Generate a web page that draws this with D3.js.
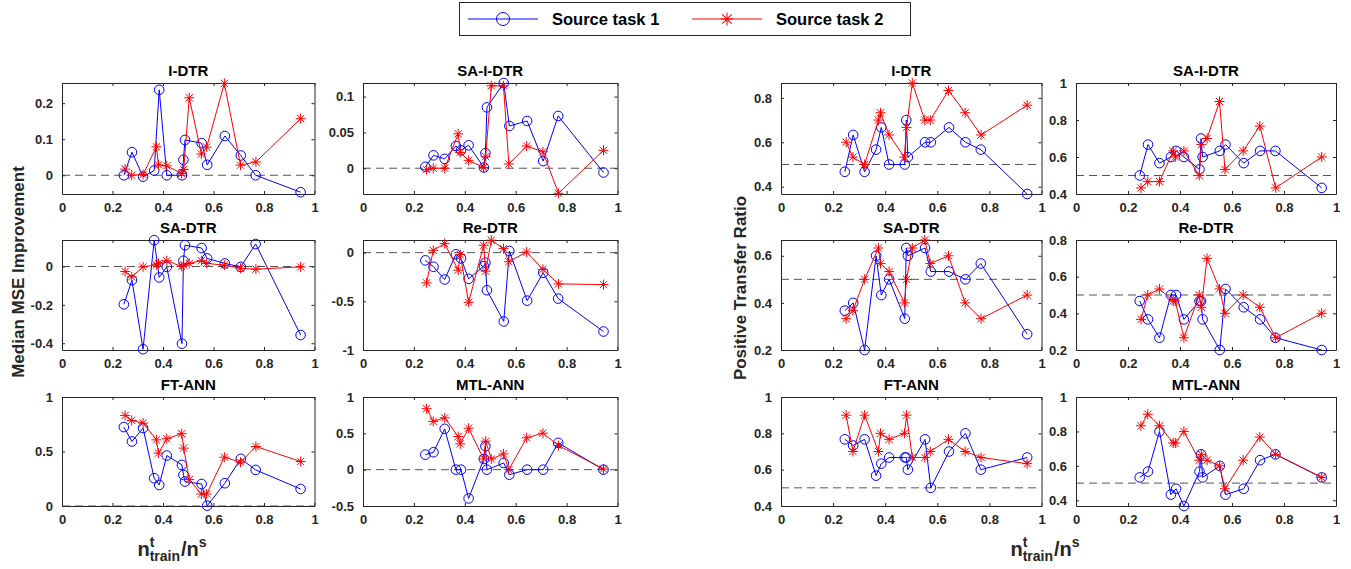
<!DOCTYPE html>
<html>
<head>
<meta charset="utf-8">
<script src="https://cdnjs.cloudflare.com/ajax/libs/d3/7.8.5/d3.min.js"></script>
<style>
  body { margin: 0; background: #fff; }
  svg { display: block; font-family: 'Liberation Sans', Arial, sans-serif; }
</style>
</head>
<body>
<div id="chart"></div>
<script>
// x values (n_train^t / n^s) of each source task
const xTask1 = [0.245, 0.277, 0.321, 0.365, 0.385, 0.415, 0.475, 0.481, 0.487, 0.553, 0.575, 0.645, 0.708, 0.767, 0.945];
const xTask2 = [0.25, 0.276, 0.321, 0.374, 0.382, 0.415, 0.474, 0.482, 0.504, 0.552, 0.573, 0.643, 0.707, 0.768, 0.945];
const xTicks = [0, 0.2, 0.4, 0.6, 0.8, 1];

const methods = ['I-DTR', 'SA-I-DTR', 'SA-DTR', 'Re-DTR', 'FT-ANN', 'MTL-ANN'];
const seriesNames = ['Source task 1', 'Source task 2'];

// median MSE improvement
const mseIDTR1 = [0, 0.064, -0.004, 0.013, 0.237, 0, 0, 0.043, 0.098, 0.089, 0.029, 0.109, 0.055, 0, -0.047];
const mseIDTR2 = [0.017, 0, 0.002, 0.079, 0.029, 0.026, 0.005, 0.016, 0.215, 0.059, 0.078, 0.255, 0.028, 0.037, 0.157];
const mseSAIDTR1 = [0.002, 0.018, 0.013, 0.031, 0.025, 0.032, 0.001, 0.021, 0.085, 0.119, 0.059, 0.066, 0.010, 0.073, -0.006];
const mseSAIDTR2 = [-0.002, 0, 0, 0.048, 0.022, 0.011, 0.001, 0.016, 0.115, 0.115, 0.006, 0.031, 0.023, -0.035, 0.025];
const mseSADTR1 = [-0.197, -0.071, -0.431, 0.137, -0.057, -0.002, -0.402, 0.030, 0.111, 0.096, 0.042, 0.016, -0.002, 0.117, -0.357];
const mseSADTR2 = [-0.026, -0.054, -0.002, 0.009, 0.016, 0.030, 0, 0.007, 0.016, 0.030, 0.016, 0.007, -0.009, -0.014, -0.002];
const mseReDTR1 = [-0.079, -0.145, -0.276, -0.017, -0.059, -0.269, -0.138, -0.103, -0.386, -0.707, 0.017, -0.493, -0.207, -0.472, -0.81];
const mseReDTR2 = [-0.31, 0.024, 0.093, -0.18, -0.02, -0.51, 0.076, -0.19, 0.128, 0.041, -0.093, 0.007, -0.172, -0.321, -0.328];
const mseFTANN1 = [0.724, 0.592, 0.715, 0.255, 0.193, 0.463, 0.377, 0.285, 0.224, 0.202, 0.003, 0.209, 0.433, 0.331, 0.156];
const mseFTANN2 = [0.831, 0.785, 0.761, 0.607, 0.485, 0.617, 0.663, 0.531, 0.242, 0.110, 0.110, 0.448, 0.402, 0.546, 0.408];
const mseMTLANN1 = [0.207, 0.24, 0.562, 0, 0, -0.396, 0.147, 0.323, 0, 0.092, -0.069, 0, 0, 0.369, 0];
const mseMTLANN2 = [0.839, 0.664, 0.714, 0.456, 0.355, 0.571, 0.147, 0.392, 0.147, 0.217, 0, 0.438, 0.502, 0.332, 0.009];

// positive transfer ratio
const ptrIDTR1 = [0.467, 0.633, 0.467, 0.567, 0.667, 0.5, 0.5, 0.7, 0.533, 0.6, 0.6, 0.667, 0.6, 0.567, 0.367];
const ptrIDTR2 = [0.6, 0.533, 0.5, 0.7, 0.733, 0.633, 0.533, 0.667, 0.867, 0.7, 0.7, 0.833, 0.733, 0.633, 0.767];
const ptrSAIDTR1 = [0.5, 0.667, 0.567, 0.6, 0.633, 0.6, 0.533, 0.7, 0.6, 0.633, 0.667, 0.567, 0.633, 0.633, 0.433];
const ptrSAIDTR2 = [0.433, 0.467, 0.467, 0.633, 0.6, 0.633, 0.5, 0.667, 0.7, 0.9, 0.533, 0.633, 0.767, 0.433, 0.6];
const ptrSADTR1 = [0.367, 0.4, 0.2, 0.6, 0.433, 0.5, 0.333, 0.633, 0.6, 0.633, 0.533, 0.533, 0.5, 0.567, 0.267];
const ptrSADTR2 = [0.333, 0.367, 0.5, 0.633, 0.567, 0.533, 0.4, 0.5, 0.633, 0.667, 0.567, 0.6, 0.4, 0.333, 0.433];
const ptrReDTR1 = [0.467, 0.367, 0.267, 0.5, 0.5, 0.367, 0.467, 0.467, 0.367, 0.2, 0.533, 0.433, 0.367, 0.267, 0.2];
const ptrReDTR2 = [0.367, 0.5, 0.533, 0.467, 0.467, 0.267, 0.5, 0.433, 0.7, 0.533, 0.4, 0.5, 0.433, 0.267, 0.4];
const ptrFTANN1 = [0.767, 0.733, 0.767, 0.567, 0.633, 0.667, 0.667, 0.667, 0.6, 0.767, 0.5, 0.7, 0.8, 0.6, 0.667];
const ptrFTANN2 = [0.9, 0.7, 0.9, 0.7, 0.8, 0.767, 0.8, 0.9, 0.667, 0.667, 0.7, 0.767, 0.7, 0.667, 0.633];
const ptrMTLANN1 = [0.533, 0.567, 0.8, 0.433, 0.467, 0.367, 0.567, 0.667, 0.533, 0.6, 0.433, 0.467, 0.633, 0.667, 0.533];
const ptrMTLANN2 = [0.833, 0.9, 0.833, 0.733, 0.733, 0.8, 0.633, 0.667, 0.633, 0.6, 0.467, 0.633, 0.767, 0.667, 0.533];

// y limits and ticks per panel
const mseLims = [[-0.052, 0.256], [-0.036, 0.119], [-0.435, 0.138], [-1, 0.13], [0, 1], [-0.5, 1]];
const mseTicks = [[0, 0.1, 0.2], [0, 0.05, 0.1], [-0.4, -0.2, 0], [-1, -0.5, 0], [0, 0.5, 1], [-0.5, 0, 0.5, 1]];
const ptrLims = [[0.367, 0.867], [0.4, 1], [0.2, 0.667], [0.2, 0.8], [0.4, 1], [0.367, 1]];
const ptrTicks = [[0.4, 0.6, 0.8], [0.4, 0.6, 0.8, 1], [0.2, 0.4, 0.6], [0.2, 0.4, 0.6, 0.8], [0.4, 0.6, 0.8, 1], [0.4, 0.6, 0.8, 1]];

const mseData = [[mseIDTR1, mseIDTR2], [mseSAIDTR1, mseSAIDTR2], [mseSADTR1, mseSADTR2], [mseReDTR1, mseReDTR2], [mseFTANN1, mseFTANN2], [mseMTLANN1, mseMTLANN2]];
const ptrData = [[ptrIDTR1, ptrIDTR2], [ptrSAIDTR1, ptrSAIDTR2], [ptrSADTR1, ptrSADTR2], [ptrReDTR1, ptrReDTR2], [ptrFTANN1, ptrFTANN2], [ptrMTLANN1, ptrMTLANN2]];

// page setup
const width = 1351;
const height = 569;
const axisColor = '#262626';
const colors = ['#0000ff', '#ff0000'];
const colX = [[62, 314.5], [363, 617.5], [781, 1041.5], [1076, 1336]];
const rowY = [[83, 194], [240, 350], [397, 506]];
const fmt = d => String(+d.toFixed(2));
const starPath = 'M-5,0H5M0,-5V5M-3.6,-3.6L3.6,3.6M-3.6,3.6L3.6,-3.6';

const svg = d3.select('#chart')
              .append('svg')
              .attr('width', width)
              .attr('height', height);

const styleAxis = sel => {
    sel.attr('font-size', 13)
       .attr('font-family', null)
       .attr('font-weight', 'bold');
    sel.select('.domain').attr('stroke', axisColor);
    sel.selectAll('.tick line').attr('stroke', axisColor);
    sel.selectAll('.tick text').attr('fill', axisColor);
};

function drawPanel(title, data, yLim, yTicks, ref, col, row) {
    const x = d3.scaleLinear().domain([0, 1]).range(colX[col]);
    const y = d3.scaleLinear().domain(yLim).range([rowY[row][1], rowY[row][0]]);
    const g = svg.append('g');
    const [x0, x1] = x.range();
    const [yb, yt] = y.range();

    // reference line (under the box)
    g.append('line')
     .attr('x1', x0).attr('x2', x1)
     .attr('y1', y(ref)).attr('y2', y(ref))
     .attr('stroke', '#555')
     .attr('stroke-width', 1)
     .attr('stroke-dasharray', '8,5');

    // box with inward ticks
    g.append('g').attr('transform', `translate(0,${yb})`)
     .call(d3.axisBottom(x).tickValues(xTicks).tickFormat(fmt).tickSizeInner(-3).tickSizeOuter(0).tickPadding(9))
     .call(styleAxis);
    g.append('g').attr('transform', `translate(0,${yt})`)
     .call(d3.axisTop(x).tickValues(xTicks).tickFormat('').tickSizeInner(-3).tickSizeOuter(0))
     .call(styleAxis);
    g.append('g').attr('transform', `translate(${x0},0)`)
     .call(d3.axisLeft(y).tickValues(yTicks).tickFormat(fmt).tickSizeInner(-3).tickSizeOuter(0).tickPadding(9))
     .call(styleAxis);
    g.append('g').attr('transform', `translate(${x1},0)`)
     .call(d3.axisRight(y).tickValues(yTicks).tickFormat('').tickSizeInner(-3).tickSizeOuter(0))
     .call(styleAxis);

    // title
    g.append('text')
     .attr('x', (x0 + x1) / 2)
     .attr('y', yt - 7.5)
     .attr('text-anchor', 'middle')
     .attr('font-weight', 'bold')
     .attr('font-size', 15)
     .attr('fill', '#000')
     .text(title);

    // series
    const xs = [xTask1, xTask2];
    data.forEach((vals, s) => {
        const pts = vals.map((v, i) => [xs[s][i], v]);
        g.append('path')
         .datum(pts)
         .attr('fill', 'none')
         .attr('stroke', colors[s])
         .attr('stroke-width', 1)
         .attr('d', d3.line().x(d => x(d[0])).y(d => y(d[1])));
        if (s === 0) {
            g.selectAll(null).data(pts).enter()
             .append('circle')
             .attr('cx', d => x(d[0]))
             .attr('cy', d => y(d[1]))
             .attr('r', 4.8)
             .attr('fill', 'none')
             .attr('stroke', colors[s])
             .attr('stroke-width', 1);
        } else {
            g.selectAll(null).data(pts).enter()
             .append('path')
             .attr('d', starPath)
             .attr('transform', d => `translate(${x(d[0])},${y(d[1])})`)
             .attr('fill', 'none')
             .attr('stroke', colors[s])
             .attr('stroke-width', 1);
        }
    });
}

methods.forEach((m, i) => {
    drawPanel(m, mseData[i], mseLims[i], mseTicks[i], 0, i % 2, Math.floor(i / 2));
    drawPanel(m, ptrData[i], ptrLims[i], ptrTicks[i], 0.5, 2 + i % 2, Math.floor(i / 2));
});

// y labels
const yLabel = (txt, cx, cy) => {
    svg.append('text')
       .attr('transform', `translate(${cx},${cy}) rotate(-90)`)
       .attr('text-anchor', 'middle')
       .attr('font-weight', 'bold')
       .attr('font-size', 17)
       .attr('fill', axisColor)
       .text(txt);
};
yLabel('Median MSE Improvement', 24, 272);
yLabel('Positive Transfer Ratio', 746, 288);

// x labels n^t_train / n^s
const xLabel = cx => {
    const g = svg.append('g').attr('font-weight', 'bold').attr('fill', axisColor);
    const base = 556;
    const n1 = g.append('text').attr('y', base).attr('font-size', 20).text('n');
    const w1 = n1.node().getComputedTextLength();
    g.append('text').attr('x', w1).attr('y', base - 9).attr('font-size', 14).text('t');
    const sub = g.append('text').attr('x', w1).attr('y', base + 5).attr('font-size', 14).text('train');
    const w2 = sub.node().getComputedTextLength() + 1;
    const n2 = g.append('text').attr('x', w1 + w2).attr('y', base).attr('font-size', 20).text('/n');
    const w3 = n2.node().getComputedTextLength();
    const s = g.append('text').attr('x', w1 + w2 + w3).attr('y', base - 9).attr('font-size', 14).text('s');
    const total = w1 + w2 + w3 + s.node().getComputedTextLength();
    g.attr('transform', `translate(${cx - total / 2},0)`);
};
xLabel(172);
xLabel(1045);

// legend
const legend = svg.append('g');
legend.append('rect')
      .attr('x', 459.5).attr('y', 2.5)
      .attr('width', 451).attr('height', 33)
      .attr('fill', '#fff')
      .attr('stroke', axisColor);
const legX = [468, 692];
seriesNames.forEach((name, s) => {
    const lx = legX[s];
    legend.append('line')
          .attr('x1', lx).attr('x2', lx + 70)
          .attr('y1', 19).attr('y2', 19)
          .attr('stroke', colors[s]);
    if (s === 0) {
        legend.append('circle').attr('cx', lx + 35).attr('cy', 19).attr('r', 6.5)
              .attr('fill', 'none').attr('stroke', colors[s]);
    } else {
        legend.append('path').attr('d', starPath)
              .attr('transform', `translate(${lx + 35},19) scale(1.3)`)
              .attr('fill', 'none').attr('stroke', colors[s]).attr('stroke-width', 0.8);
    }
    legend.append('text')
          .attr('x', lx + 84).attr('y', 25)
          .attr('font-weight', 'bold')
          .attr('font-size', 16.5)
          .attr('fill', '#000')
          .text(name);
});
</script>
</body>
</html>
